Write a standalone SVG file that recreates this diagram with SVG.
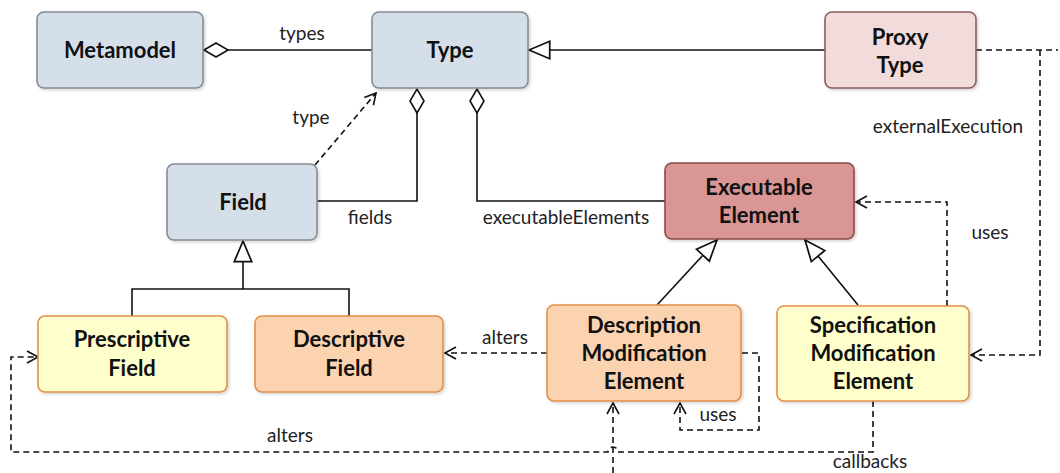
<svg xmlns="http://www.w3.org/2000/svg" width="1060" height="473" viewBox="0 0 1060 473">
<style>
.n{stroke-width:1.6}
.blue{fill:#d5dfea;stroke:#868c94}
.proxy{fill:#f2dcdb;stroke:#8e5e5c}
.exec{fill:#d99694;stroke:#8b4a48}
.desc{fill:#fbd3b0;stroke:#e2904a}
.pres{fill:#ffffcc;stroke:#e2904a}
.t{font-family:Lato,"Open Sans","Liberation Sans",sans-serif;font-weight:bold;font-size:22px;fill:#111;text-anchor:middle}
.l{font-family:Lato,"Open Sans","Liberation Sans",sans-serif;font-size:19px;fill:#222;text-anchor:middle}
.c{fill:none;stroke:#111;stroke-width:1.6}
.d{fill:none;stroke:#111;stroke-width:1.6;stroke-dasharray:6 4}
</style>
<defs>
<filter id="sh" x="-10%" y="-10%" width="130%" height="130%"><feDropShadow dx="1.5" dy="1.5" stdDeviation="1.5" flood-color="#000" flood-opacity="0.18"/></filter>
<marker id="tri" markerUnits="userSpaceOnUse" markerWidth="24" markerHeight="24" refX="20" refY="10" orient="auto" viewBox="0 0 22 20"><path d="M20,10 L1,2 L1,18 Z" fill="#fff" stroke="#111" stroke-width="1.6"/></marker>
<marker id="dia" markerUnits="userSpaceOnUse" markerWidth="28" markerHeight="18" refX="25" refY="8" orient="auto" viewBox="0 0 28 16"><path d="M1,8 L13,1 L25,8 L13,15 Z" fill="#fff" stroke="#111" stroke-width="1.6"/></marker>
<marker id="opn" markerUnits="userSpaceOnUse" markerWidth="16" markerHeight="16" refX="13" refY="7" orient="auto" viewBox="0 0 16 14"><path d="M2,1 L13,7 L2,13" fill="none" stroke="#111" stroke-width="1.6"/></marker>
</defs>
<g id="connectors">
<path class="c" d="M372,50 H204" marker-end="url(#dia)"/>
<path class="c" d="M825,50 H529" marker-end="url(#tri)"/>
<path class="c" d="M317,201 H417 V89" marker-end="url(#dia)"/>
<path class="c" d="M665,201 H477 V89" marker-end="url(#dia)"/>
<path class="d" d="M315,165 L376,93" marker-end="url(#opn)"/>
<path class="c" d="M132,316 V289 H349 V316 M243,289 V241" marker-end="url(#tri)"/>
<path class="c" d="M657,305 L717,240" marker-end="url(#tri)"/>
<path class="c" d="M858,305 L805,240" marker-end="url(#tri)"/>
<path class="d" d="M976,50 H1058 M1040,50 V355 H971" marker-end="url(#opn)"/>
<path class="d" d="M947,306 V202 H856" marker-end="url(#opn)"/>
<path class="d" d="M547,353 H445" marker-end="url(#opn)"/>
<path class="d" d="M742,353 H759 V430 H680 V403" marker-end="url(#opn)"/>
<path class="d" d="M873,401 V452 H618 A5,5 0 0 0 608,452 H11 V357 H38" marker-end="url(#opn)"/>
<path class="d" d="M613,473 V403" marker-end="url(#opn)"/>
</g>
<g id="labels">
<text class="l" x="302" y="40">types</text>
<text class="l" x="311" y="124">type</text>
<text class="l" x="370" y="224">fields</text>
<text class="l" x="566" y="224">executableElements</text>
<text class="l" x="948" y="133">externalExecution</text>
<text class="l" x="990" y="239">uses</text>
<text class="l" x="505" y="344">alters</text>
<text class="l" x="718" y="421">uses</text>
<text class="l" x="290" y="442">alters</text>
<text class="l" x="870" y="468">callbacks</text>
</g>
<g id="metamodel"><rect class="n blue" x="37" y="12" width="166" height="76" rx="7" filter="url(#sh)"/><text class="t" x="120" y="58">Metamodel</text></g>
<g id="type"><rect class="n blue" x="372" y="12" width="156" height="76" rx="7" filter="url(#sh)"/><text class="t" x="450" y="58">Type</text></g>
<g id="proxy-type"><rect class="n proxy" x="825" y="12" width="151" height="76" rx="7" filter="url(#sh)"/><text class="t" x="900" y="45">Proxy</text><text class="t" x="900" y="73">Type</text></g>
<g id="field"><rect class="n blue" x="167" y="164" width="150" height="76" rx="7" filter="url(#sh)"/><text class="t" x="243" y="210">Field</text></g>
<g id="executable-element"><rect class="n exec" x="665" y="163" width="189" height="76" rx="7" filter="url(#sh)"/><text class="t" x="759" y="195">Executable</text><text class="t" x="759" y="223">Element</text></g>
<g id="prescriptive-field"><rect class="n pres" x="38" y="316" width="189" height="76" rx="7" filter="url(#sh)"/><text class="t" x="132" y="347">Prescriptive</text><text class="t" x="132" y="376">Field</text></g>
<g id="descriptive-field"><rect class="n desc" x="255" y="316" width="188" height="76" rx="7" filter="url(#sh)"/><text class="t" x="349" y="347">Descriptive</text><text class="t" x="349" y="376">Field</text></g>
<g id="description-modification-element"><rect class="n desc" x="547" y="305" width="194" height="96" rx="7" filter="url(#sh)"/><text class="t" x="644" y="333">Description</text><text class="t" x="644" y="361">Modification</text><text class="t" x="644" y="389">Element</text></g>
<g id="specification-modification-element"><rect class="n pres" x="777" y="306" width="192" height="95" rx="7" filter="url(#sh)"/><text class="t" x="873" y="333">Specification</text><text class="t" x="873" y="361">Modification</text><text class="t" x="873" y="389">Element</text></g>
</svg>
